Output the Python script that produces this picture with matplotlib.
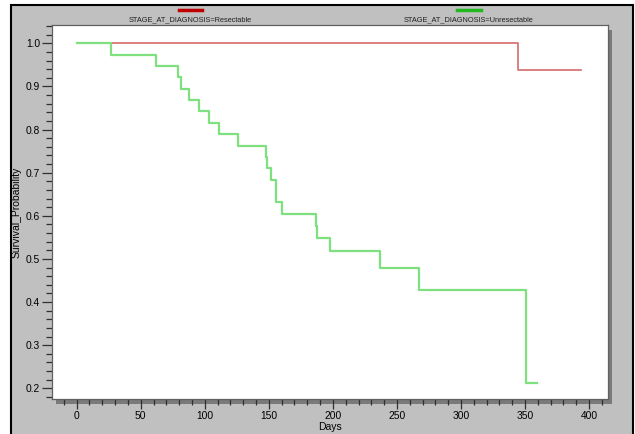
import matplotlib
matplotlib.use("Agg")
import matplotlib.pyplot as plt
import matplotlib.patches as mpatches
from matplotlib.lines import Line2D
from matplotlib.ticker import MultipleLocator

plt.rcParams['font.family'] = ['Liberation Sans', 'DejaVu Sans']

# Kaplan-Meier steps
red_label = "STAGE_AT_DIAGNOSIS=Resectable"
red_days = [0, 344.8, 393.7]
red_surv = [1.0, 0.938, 0.938]

green_label = "STAGE_AT_DIAGNOSIS=Unresectable"
green_days = [0, 26.8, 61.7, 78.9, 81.4, 87.9, 95.7, 103.5, 111.3, 125.7,
              147.8, 148.6, 151.7, 155.8, 160.5, 186.6, 187.6, 197.8,
              236.8, 267.3, 350.8, 359.2]
green_surv = [1.0, 0.974, 0.947, 0.921, 0.895, 0.868, 0.842, 0.816, 0.789,
              0.763, 0.737, 0.711, 0.684, 0.632, 0.605, 0.576, 0.549, 0.519,
              0.479, 0.428, 0.212, 0.212]

W, H = 635, 434
fig = plt.figure(figsize=(W / 100, H / 100), dpi=100, facecolor='white')

def px(x0, y0, x1, y1):
    # pixel box (top-left origin) -> figure fraction rect
    return [x0 / W, 1 - y1 / H, (x1 - x0) / W, (y1 - y0) / H]

# grey panel with black frame
bg = fig.add_axes([0, 0, 1, 1], zorder=-10)
bg.set_xlim(0, W)
bg.set_ylim(H, 0)
bg.axis('off')
bg.add_patch(mpatches.Rectangle((11, 4.5), 622, 440, facecolor='#c0c0c0',
                                edgecolor='black', linewidth=1.5))
# shadow behind plot area
bg.add_patch(mpatches.Rectangle((56, 30), 556, 374, facecolor='#7a7a7a',
                                edgecolor='none'))

# legend at top
bg.add_line(Line2D([179, 202], [10, 10], color='#c00000', linewidth=2.5))
bg.add_line(Line2D([457, 481], [10, 10], color='#22b822', linewidth=2.5))
bg.text(190.5, 19.5, red_label, ha='center', va='center', fontsize=5.3,
        color='#202020')
bg.text(468.5, 19.5, green_label, ha='center', va='center', fontsize=5.3,
        color='#202020')

ax = fig.add_axes(px(51.7, 25, 608.3, 399.3))
ax.set_facecolor('white')
ax.step(red_days, red_surv, where='post', color='#d46a6a', linewidth=1.2)
ax.step(green_days, green_surv, where='post', color='#7ee07e', linewidth=1.6)

ax.set_xlim(-19.5, 415)
ax.set_ylim(0.1745, 1.0425)
ax.xaxis.set_major_locator(MultipleLocator(50))
ax.xaxis.set_minor_locator(MultipleLocator(10))
ax.yaxis.set_major_locator(MultipleLocator(0.1))
ax.yaxis.set_minor_locator(MultipleLocator(0.02))
ax.yaxis.set_major_formatter(matplotlib.ticker.FormatStrFormatter('%.1f'))

ax.tick_params(axis='both', which='major', length=7, width=0.9,
               labelsize=7.4, pad=1.5, color='#303030')
ax.tick_params(axis='both', which='minor', length=4, width=0.9,
               color='#303030')
for s in ax.spines.values():
    s.set_color('#606060')
    s.set_linewidth(0.9)

ax.set_xlabel('Days', fontsize=7.5, labelpad=0.5)
ax.set_ylabel('Survival_Probability', fontsize=7.5, labelpad=3)

plt.savefig('out.png', dpi=100, facecolor=fig.get_facecolor())
